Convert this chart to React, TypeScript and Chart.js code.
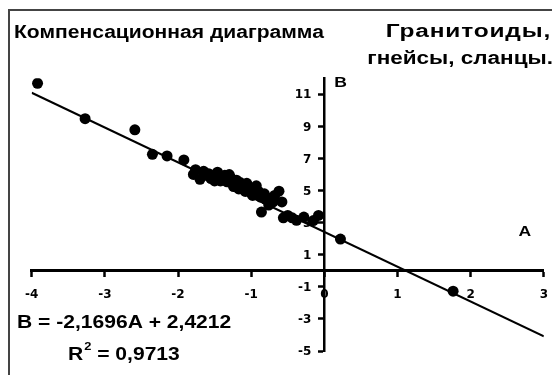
import React, { useEffect, useRef } from "react";
import { Chart, registerables } from "chart.js";

Chart.register(...registerables);

// Sample values: A (x) and B (y)
const sampleA = [
  -3.92, -3.27, -2.59, -2.35, -2.15, -1.92, -1.76, -1.79, -1.7, -1.65, -1.62,
  -1.58, -1.55, -1.5, -1.46, -1.42, -1.4, -1.36, -1.33, -1.3, -1.28, -1.24,
  -1.2, -1.17, -1.15, -1.12, -1.08, -1.06, -1.03, -1.0, -0.98, -0.95, -0.93,
  -0.9, -0.87, -0.86, -0.82, -0.8, -0.76, -0.74, -0.7, -0.68, -0.62, -0.58,
  -0.56, -0.5, -0.44, -0.38, -0.28, -0.15, -0.08, 0.22, 1.76,
];
const sampleB = [
  11.69, 9.48, 8.79, 7.26, 7.16, 6.91, 6.3, 6.01, 5.7, 6.2, 5.95, 6.05, 5.75,
  5.6, 6.15, 5.6, 5.85, 5.95, 5.55, 6.0, 5.8, 5.25, 5.65, 5.1, 5.5, 5.3, 4.95,
  5.45, 5.05, 4.85, 4.7, 5.15, 5.3, 4.95, 4.6, 3.66, 4.8, 4.45, 4.1, 4.5, 4.3,
  4.7, 4.96, 4.29, 3.3, 3.45, 3.3, 3.15, 3.35, 3.13, 3.45, 1.98, -1.27,
];

// Linear trend B = slope * A + intercept
const slope = -2.1696;
const intercept = 2.4212;
const rSquared = 0.9713;
const trendA = [-4, 3];

const xTicks = [-4, -3, -2, -1, 0, 1, 2, 3];
const yTicks = [-5, -3, -1, 1, 3, 5, 7, 9, 11];
const xRange = [-4, 3];
const yRange = [-5, 12];

const titleText = "Компенсационная диаграмма";
const groupLines = ["Гранитоиды,", "гнейсы, сланцы."];
const xAxisName = "А";
const yAxisName = "В";

const fmt = (v: number) => v.toFixed(4).replace(".", ",");
const equationText = `${yAxisName} = ${fmt(slope)}${xAxisName} + ${fmt(intercept)}`;
const rValueText = ` = ${fmt(rSquared)}`;

const FONT = '"Liberation Sans", Arial, sans-serif';
const TICK_FONT = 'bold 12px "DejaVu Sans", sans-serif';

function drawText(
  ctx: CanvasRenderingContext2D,
  text: string,
  x: number,
  y: number,
  size: number,
  stretch: number,
  align: "left" | "right" | "center",
  spacing = 0
): number {
  ctx.save();
  ctx.font = `bold ${size}px ${FONT}`;
  (ctx as any).letterSpacing = `${spacing}px`;
  ctx.textBaseline = "middle";
  ctx.textAlign = "left";
  ctx.fillStyle = "#000";
  const w = ctx.measureText(text).width * stretch;
  const left = align === "left" ? x : align === "right" ? x - w : x - w / 2;
  ctx.translate(left, y);
  ctx.scale(stretch, 1);
  ctx.fillText(text, 0, 0);
  ctx.restore();
  return w;
}

const annotations = {
  id: "annotations",
  afterDatasetsDraw(chart: any) {
    // value labels of the vertical axis, left of the axis line
    const ctx = chart.ctx as CanvasRenderingContext2D;
    const xs = chart.scales.x;
    const ys = chart.scales.y;
    const axisX = xs.getPixelForValue(0);
    ctx.save();
    ctx.font = TICK_FONT;
    ctx.fillStyle = "#000";
    ctx.textAlign = "right";
    ctx.textBaseline = "middle";
    ys.ticks.forEach((t: any) => {
      ctx.fillText(String(t.value), axisX - 13, ys.getPixelForValue(t.value) + 1);
    });
    ctx.restore();
  },
  afterDraw(chart: any) {
    const ctx = chart.ctx as CanvasRenderingContext2D;
    const xs = chart.scales.x;
    const ys = chart.scales.y;
    const stretch = 1.17;

    drawText(ctx, titleText, 4, 22, 18, stretch, "left");
    drawText(ctx, groupLines[0], 541, 21, 18, 1.36, "right", 0.6);
    drawText(ctx, groupLines[1], 543, 48, 18, 1.25, "right");

    drawText(ctx, yAxisName, xs.getPixelForValue(0) + 10, ys.getPixelForValue(yRange[1]) + 5, 15, stretch, "left");
    drawText(ctx, xAxisName, xs.getPixelForValue(xRange[1]) - 19, ys.getPixelForValue(0) - 39, 15, stretch, "center");

    drawText(ctx, equationText, 7, 312, 18, 1.17, "left");
    let x = 58;
    x += drawText(ctx, "R", x, 344, 18, 1.17, "left");
    x += drawText(ctx, "2", x + 1, 336, 11, 1.17, "left") + 1;
    drawText(ctx, rValueText, x, 344, 18, 1.17, "left");
  },
};

export default function App() {
  const canvasRef = useRef<HTMLCanvasElement | null>(null);

  useEffect(() => {
    document.documentElement.style.overflow = "hidden";
    const canvas = canvasRef.current;
    if (!canvas) return;

    const points = sampleA.map((a, i) => ({ x: a, y: sampleB[i] }));
    const trend = trendA.map((a) => ({ x: a, y: slope * a + intercept }));

    const tickFont = { family: '"DejaVu Sans", sans-serif', size: 12, weight: "bold" as const };

    const chart = new Chart(canvas, {
      type: "scatter",
      data: {
        datasets: [
          {
            type: "line",
            data: trend,
            borderColor: "#000",
            borderWidth: 2,
            pointRadius: 0,
            fill: false,
            tension: 0,
            order: 2,
          },
          {
            type: "scatter",
            data: points,
            backgroundColor: "#000",
            borderColor: "#000",
            pointRadius: 5.5,
            borderWidth: 0,
            order: 1,
          },
        ],
      },
      options: {
        responsive: false,
        animation: false,
        devicePixelRatio: 1,
        layout: { padding: { left: 21.7, right: 13.8, top: 67.3, bottom: 26 } },
        plugins: { legend: { display: false }, tooltip: { enabled: false } },
        scales: {
          x: {
            type: "linear",
            min: xRange[0],
            max: xRange[1],
            position: { y: 0 } as any,
            afterBuildTicks: (s: any) => {
              s.ticks = xTicks.map((v) => ({ value: v }));
            },
            ticks: { color: "#000", font: tickFont, padding: 12, maxRotation: 0, autoSkip: false },
            grid: {
              drawOnChartArea: false,
              drawTicks: true,
              tickLength: 5,
              tickWidth: 2.5,
              tickColor: "#000",
            },
            border: { display: true, color: "#000", width: 3 },
          },
          y: {
            type: "linear",
            min: yRange[0],
            max: yRange[1],
            position: { x: 0 } as any,
            afterBuildTicks: (s: any) => {
              s.ticks = yTicks.map((v) => ({ value: v }));
            },
            ticks: { display: false },
            grid: {
              drawOnChartArea: false,
              drawTicks: true,
              tickLength: 5,
              tickWidth: 2.5,
              tickColor: "#000",
            },
            border: { display: true, color: "#000", width: 2.5 },
          },
        },
      },
      plugins: [annotations],
    });

    return () => chart.destroy();
  }, []);

  return (
    <div
      style={{
        position: "relative",
        top: 1,
        width: 550,
        height: 365,
        borderTop: "2px solid #444",
        borderLeft: "2px solid #444",
        background: "#fff",
      }}
    >
      <canvas ref={canvasRef} width={550} height={366} style={{ display: "block", width: 550, height: 366 }} />
    </div>
  );
}
